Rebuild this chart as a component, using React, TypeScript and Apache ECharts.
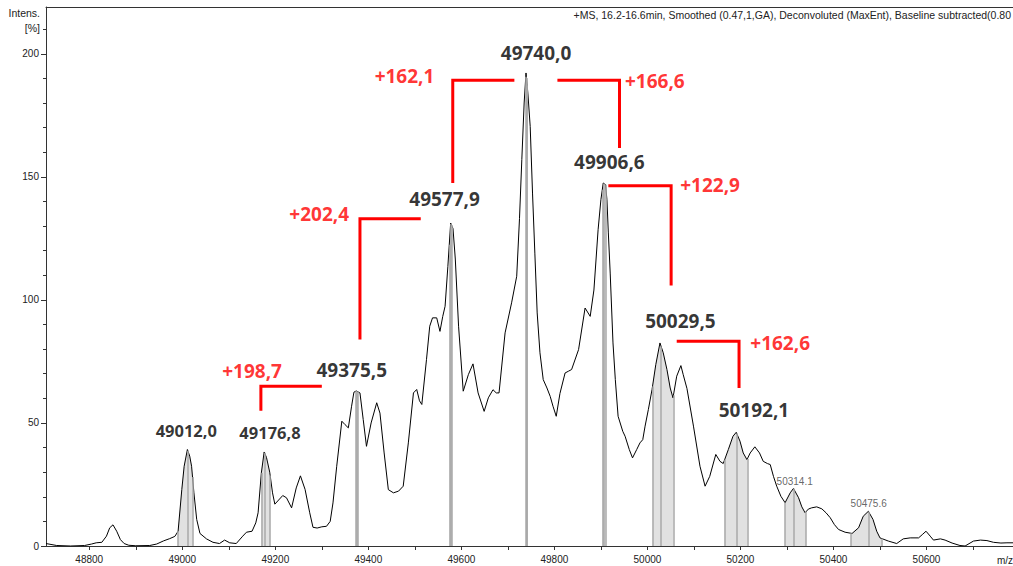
import React, { useEffect, useRef } from "react";
import * as echarts from "echarts";

// Spectrum (m/z, intensity %)
const massValues = [
  48707, 48730, 48760, 48790, 48805, 48815, 48827, 48837, 48844, 48851, 48859, 48867, 48875, 48885, 48900, 48930,
  48945, 48960, 48973, 48984, 48991, 48999, 49004, 49011, 49016, 49020, 49025, 49031, 49038, 49052, 49066, 49080,
  49091, 49102, 49116, 49130, 49138, 49150, 49158, 49163, 49170, 49176, 49181, 49188, 49194, 49199, 49216, 49224,
  49235, 49245, 49254, 49264, 49274, 49281, 49290, 49300, 49310, 49318, 49324, 49332, 49343, 49350, 49357, 49364,
  49369, 49374, 49382, 49389, 49396, 49406, 49418, 49425, 49434, 49443, 49454, 49465, 49475, 49486, 49497, 49504,
  49510, 49515, 49525, 49532, 49538, 49547, 49554, 49560, 49565, 49571, 49577, 49582, 49587, 49594, 49604, 49615,
  49625, 49636, 49649, 49658, 49668, 49675, 49681, 49694, 49708, 49719, 49725, 49730, 49735, 49739, 49743, 49748,
  49753, 49758, 49763, 49769, 49776, 49784, 49791, 49797, 49804, 49812, 49823, 49830, 49837, 49852, 49866, 49877,
  49885, 49894, 49900, 49905, 49910, 49913, 49916, 49920, 49926, 49931, 49937, 49947, 49952, 49961, 49968, 49977,
  49984, 49990, 49995, 50002, 50010, 50018, 50027, 50034, 50042, 50049, 50055, 50063, 50072, 50077, 50085, 50099,
  50113, 50124, 50134, 50147, 50156, 50163, 50174, 50184, 50191, 50199, 50206, 50214, 50221, 50231, 50241, 50249,
  50258, 50264, 50271, 50278, 50287, 50296, 50307, 50314, 50325, 50332, 50339, 50346, 50353, 50364, 50375, 50384,
  50393, 50402, 50411, 50425, 50440, 50454, 50464, 50475, 50485, 50493, 50500, 50518, 50536, 50550, 50565, 50583,
  50592, 50599, 50608, 50615, 50630, 50640, 50655, 50672, 50683, 50701, 50716, 50730, 50744, 50760, 50773, 50786,
];
const intensityValues = [
  1.0, 0.2, 0.0, 0.2, 0.8, 1.3, 1.5, 4.0, 7.4, 8.6, 6.0, 2.6, 1.0, 0.3, 0.1, 0.2,
  0.8, 2.1, 3.0, 3.9, 6.0, 23.0, 32.4, 39.2, 36.5, 32.4, 21.6, 10.8, 5.1, 2.9, 1.5, 1.0,
  2.4, 1.3, 1.0, 4.0, 5.6, 6.0, 9.4, 13.5, 29.7, 38.2, 36.0, 30.0, 21.6, 17.0, 20.5, 19.6,
  15.5, 23.6, 28.5, 23.0, 13.5, 7.6, 7.3, 7.8, 8.0, 10.0, 17.5, 32.4, 50.7, 49.3, 48.0, 56.8,
  62.5, 63.0, 62.2, 51.4, 40.5, 50.0, 58.2, 54.0, 37.8, 22.9, 21.6, 22.3, 24.3, 41.9, 62.2, 63.6,
  59.0, 57.5, 75.7, 89.3, 92.7, 92.7, 87.2, 93.3, 97.4, 113.6, 131.2, 129.0, 116.6, 89.3, 62.9, 69.6,
  74.0, 62.2, 54.7, 60.2, 63.5, 62.2, 62.2, 86.6, 98.8, 109.6, 133.0, 157.0, 180.0, 192.2, 184.0, 170.5,
  143.4, 119.0, 94.7, 78.5, 67.6, 64.2, 60.8, 56.8, 52.7, 62.0, 70.3, 71.0, 71.7, 79.8, 96.7, 93.3,
  104.0, 128.5, 140.7, 147.5, 146.8, 140.7, 127.2, 110.9, 82.5, 67.6, 52.7, 46.6, 44.6, 39.2, 35.8, 39.2,
  41.9, 43.2, 48.7, 55.4, 63.6, 73.7, 82.5, 78.5, 71.7, 64.2, 60.2, 69.0, 73.3, 69.6, 64.0, 48.7,
  32.4, 24.3, 28.3, 37.2, 34.4, 33.5, 39.2, 44.6, 46.2, 42.6, 37.8, 35.1, 37.8, 40.3, 37.8, 34.4,
  33.5, 33.1, 28.3, 24.3, 20.2, 17.6, 21.6, 23.4, 19.6, 15.9, 13.5, 15.0, 15.5, 15.9, 15.1, 13.5,
  11.5, 8.7, 6.7, 5.6, 5.1, 7.4, 12.1, 14.1, 10.8, 6.0, 3.3, 2.0, 1.0, 2.9, 3.3, 3.3,
  4.8, 6.0, 4.0, 2.4, 2.9, 2.4, 1.2, 0.2, 0.0, 2.0, 2.4, 2.2, 1.5, 1.2, 1.3, 1.3,
];

// Integrated peak regions
const peakCenters = [49012.0, 49176.8, 49375.5, 49577.9, 49740.0, 49906.6, 50029.5, 50192.1, 50314.1, 50475.6];
const regionStarts = [48991, 49170, 49373, 49574, 49738.5, 49903, 50011, 50166, 50296, 50438];
const regionEnds = [49022, 49189, 49378, 49579, 49741.5, 49910, 50056, 50215, 50341, 50503];

// Bold mass annotations
const massLabelTexts = ["49012,0", "49176,8", "49375,5", "49577,9", "49740,0", "49906,6", "50029,5", "50192,1"];
const massLabelX = [49008.6, 49188.6, 49364.3, 49563.9, 49760.6, 49918.3, 50071, 50229];
const massLabelY = [47.0, 46.1, 71.6, 141.1, 200.4, 155.9, 91.6, 55.3];
const massLabelSizes = [16.5, 16.5, 19, 19, 19, 19, 19, 19];

// Red mass-shift annotations
const shiftLabelTexts = ["+198,7", "+202,4", "+162,1", "+166,6", "+122,9", "+162,6"];
const shiftLabelX = [49150, 49294.4, 49477.8, 50015.9, 50134.8, 50285.4];
const shiftLabelY = [71.3, 134.9, 191.1, 188.8, 146.5, 82.6];

// Red brackets (m/z, intensity)
const bracket198 = [[49300, 64.9], [49169, 64.9], [49169, 55]];
const bracket202 = [[49512.7, 133], [49382, 133], [49382, 83.9]];
const bracket162a = [[49714, 189.2], [49581.5, 189.2], [49581.5, 147.5]];
const bracket166 = [[49806.5, 189.2], [49940, 189.2], [49940, 161.7]];
const bracket122 = [[49916, 146.4], [50051, 146.4], [50051, 105.8]];
const bracket162b = [[50063, 83.2], [50197, 83.2], [50197, 64.2]];

// Small peak labels
const smallLabelTexts = ["50314.1", "50475.6"];
const smallLabelX = [50316.6, 50475.7];
const smallLabelY = [26.3, 17.1];

// Axis ticks
const xTickValues = [48800, 48900, 49000, 49100, 49200, 49300, 49400, 49500, 49600, 49700, 49800, 49900, 50000, 50100, 50200, 50300, 50400, 50500, 50600, 50700];
const xLabelValues = [48800, 49000, 49200, 49400, 49600, 49800, 50000, 50200, 50400, 50600];
const yLabelValues = [0, 50, 100, 150, 200];
const yMinorValues = [10, 20, 30, 40, 60, 70, 80, 90, 110, 120, 130, 140, 160, 170, 180, 190, 210];

const headerText = "+MS, 16.2-16.6min, Smoothed (0.47,1,GA), Deconvoluted (MaxEnt), Baseline subtracted(0.80";

function interp(x: number): number {
  for (let i = 0; i < massValues.length - 1; i++) {
    const x0 = massValues[i];
    const x1 = massValues[i + 1];
    if (x >= x0 && x <= x1) {
      const t = (x - x0) / (x1 - x0);
      return intensityValues[i] + t * (intensityValues[i + 1] - intensityValues[i]);
    }
  }
  return 0;
}

export default function App() {
  const ref = useRef<HTMLDivElement>(null);
  useEffect(() => {
    if (!ref.current) return;
    const chart = echarts.init(ref.current, null, { renderer: "svg" });
    const X_MIN = 48707;
    const X_MAX = 50786;
    const Y_MAX = 219;
    const font = "Liberation Sans";

    const spectrum = massValues.map((m, i) => [m, intensityValues[i]]);

    const regionSeries = regionStarts.map((a, i) => {
      const b = regionEnds[i];
      const c = peakCenters[i];
      const pts: number[][] = [[a, interp(a)]];
      massValues.forEach((m, j) => {
        if (m > a && m < b) pts.push([m, intensityValues[j]]);
      });
      pts.push([b, interp(b)]);
      return {
        type: "line",
        data: pts,
        symbol: "none",
        silent: true,
        z: 1,
        lineStyle: { width: 0, color: "#e0e0e0" },
        areaStyle: { color: "#e1e1e1", opacity: 1 },
        markLine: {
          symbol: "none",
          silent: true,
          animation: false,
          label: { show: false },
          lineStyle: { color: "#a9a9a9", width: 1.5, type: "solid" },
          data: [
            [{ coord: [a, 0] }, { coord: [a, interp(a)] }],
            [{ coord: [b, 0] }, { coord: [b, interp(b)] }],
            [{ coord: [c, 0] }, { coord: [c, interp(c)] }],
          ],
        },
      };
    });

    const brackets = [bracket198, bracket202, bracket162a, bracket166, bracket122, bracket162b].map((d) => ({
      type: "line",
      data: d,
      symbol: "none",
      silent: true,
      z: 4,
      lineStyle: { color: "#ff0000", width: 3, join: "miter", cap: "butt" },
    }));

    const massLabelData = massLabelTexts.map((t, i) => ({
      value: [massLabelX[i], massLabelY[i]],
      name: t,
      label: { fontSize: massLabelSizes[i] },
    }));
    const shiftLabelData = shiftLabelTexts.map((t, i) => ({
      value: [shiftLabelX[i], shiftLabelY[i]],
      name: t,
    }));
    const smallLabelData = smallLabelTexts.map((t, i) => ({
      value: [smallLabelX[i], smallLabelY[i]],
      name: t,
    }));

    const labelSeries = (data: any[], color: string, size: number, weight: string, family: string) => ({
      type: "scatter",
      data,
      symbolSize: 1,
      itemStyle: { color: "rgba(0,0,0,0)" },
      silent: true,
      z: 6,
      label: {
        show: true,
        position: "inside",
        formatter: (p: any) => p.name,
        color,
        fontSize: size,
        fontWeight: weight,
        fontFamily: family,
      },
    });

    chart.setOption({
      animation: false,
      backgroundColor: "#ffffff",
      grid: { left: 46, right: 0, top: 7, bottom: 20, containLabel: false },
      xAxis: [
        {
          type: "value",
          min: X_MIN,
          max: X_MAX,
          position: "bottom",
          axisLine: { show: true, onZero: false, lineStyle: { color: "#333", width: 1 } },
          axisTick: { show: true, customValues: xTickValues, length: 4, lineStyle: { color: "#333" } },
          axisLabel: {
            customValues: xLabelValues,
            formatter: (v: number) => String(v),
            fontSize: 10,
            color: "#222",
            margin: 8,
            fontFamily: font,
          },
          splitLine: { show: false },
        },
        {
          type: "value",
          min: X_MIN,
          max: X_MAX,
          position: "top",
          axisLine: { show: true, onZero: false, lineStyle: { color: "#333", width: 1 } },
          axisTick: { show: false },
          axisLabel: { show: false },
          splitLine: { show: false },
        },
      ],
      yAxis: [
        {
          type: "value",
          min: 0,
          max: Y_MAX,
          position: "left",
          offset: 0,
          axisLine: { show: true, lineStyle: { color: "#333", width: 1 } },
          axisTick: { show: true, customValues: yLabelValues, length: 5, lineStyle: { color: "#333" } },
          axisLabel: {
            customValues: yLabelValues,
            formatter: (v: number) => String(v),
            fontSize: 10,
            color: "#222",
            margin: 7,
            fontFamily: font,
          },
          splitLine: { show: false },
        },
        {
          type: "value",
          min: 0,
          max: Y_MAX,
          position: "left",
          offset: 0,
          axisLine: { show: false },
          axisTick: { show: true, customValues: yMinorValues, length: 3, lineStyle: { color: "#333" } },
          axisLabel: { show: false },
          splitLine: { show: false },
        },
      ],
      graphic: [
        { type: "text", style: { text: "Intens.", x: 40, y: 13, align: "right", verticalAlign: "middle", font: `10.5px "${font}"`, fill: "#222" } },
        { type: "text", style: { text: "[%]", x: 40, y: 28, align: "right", verticalAlign: "middle", font: `10.5px "${font}"`, fill: "#222" } },
        { type: "text", style: { text: headerText, x: 1011, y: 15, align: "right", verticalAlign: "middle", font: `10.5px "${font}"`, fill: "#222" } },
        { type: "text", style: { text: "m/z", x: 997, y: 560, align: "left", verticalAlign: "middle", font: `10px "${font}"`, fill: "#222" } },
      ],
      series: [
        ...regionSeries,
        {
          type: "line",
          data: spectrum,
          symbol: "none",
          silent: true,
          z: 3,
          lineStyle: { color: "#000", width: 1 },
        },
        ...brackets,
        labelSeries(massLabelData, "#000000", 19, "bold", "Open Sans"),
        labelSeries(shiftLabelData, "#ff0000", 19, "bold", "Open Sans"),
        labelSeries(smallLabelData, "#404040", 10, "normal", font),
      ],
    });
    return () => chart.dispose();
  }, []);
  return (
    <div
      ref={ref}
      style={{ position: "fixed", left: 0, top: 0, width: 1013, height: 566, background: "#fff" }}
    />
  );
}
